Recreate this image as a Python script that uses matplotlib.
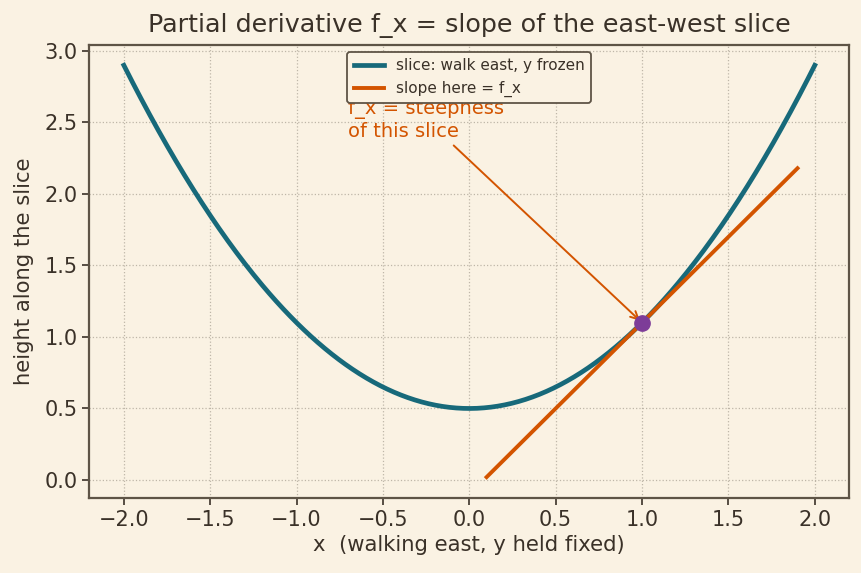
import matplotlib.pyplot as plt
import numpy as np

# slice z(x) = base + curv * x^2
base = 0.5
curv = 0.6
x_range = (-2.0, 2.0)

# point where the slope is taken
x0 = 1.0
tangent_range = (0.1, 1.9)

title = "Partial derivative f_x = slope of the east-west slice"
x_label = "x  (walking east, y held fixed)"
y_label = "height along the slice"
curve_label = "slice: walk east, y frozen"
tangent_label = "slope here = f_x"
note = "f_x = steepness\nof this slice"

bg = "#faf2e3"
ink = "#3a3128"
teal = "#17697a"
orange = "#d35400"
purple = "#7d3c98"

plt.rcParams["font.family"] = "DejaVu Sans"

x = np.linspace(x_range[0], x_range[1], 400)
z = base + curv * x**2
z0 = base + curv * x0**2
slope = 2 * curv * x0
xt = np.linspace(tangent_range[0], tangent_range[1], 2)
zt = z0 + slope * (xt - x0)

fig, ax = plt.subplots(figsize=(8.62, 5.73), dpi=100)
fig.patch.set_facecolor(bg)
ax.set_facecolor(bg)
fig.subplots_adjust(left=0.1036, right=0.9853, top=0.922, bottom=0.1314)

ax.plot(x, z, color=teal, lw=3.4, label=curve_label, zorder=3)
ax.plot(xt, zt, color=orange, lw=2.8, label=tangent_label, zorder=3)
ax.plot([x0], [z0], "o", color=purple, ms=11, zorder=5)

ax.annotate(
    note,
    xy=(x0, z0),
    xytext=(-0.7, 2.4),
    color=orange,
    fontsize=14,
    arrowprops={"arrowstyle": "->", "color": orange, "lw": 1.4},
)

ax.set_title(title, fontsize=18.3, color=ink, pad=9)
ax.set_xlabel(x_label, fontsize=15.2, color=ink)
ax.set_ylabel(y_label, fontsize=15.2, color=ink, labelpad=7.5)
ax.tick_params(colors=ink, labelsize=15, length=5, width=1.2)
ax.grid(True, linestyle=":", color="#b4ac9e", lw=0.9, alpha=0.85)
for s in ax.spines.values():
    s.set_color("#5e5446")
    s.set_linewidth(1.6)

leg = ax.legend(loc="upper center", fontsize=11, facecolor=bg, edgecolor="#5e5446", framealpha=1)
leg.get_frame().set_linewidth(1.3)
for t in leg.get_texts():
    t.set_color(ink)

plt.savefig("out.png", dpi=100, facecolor=bg)
